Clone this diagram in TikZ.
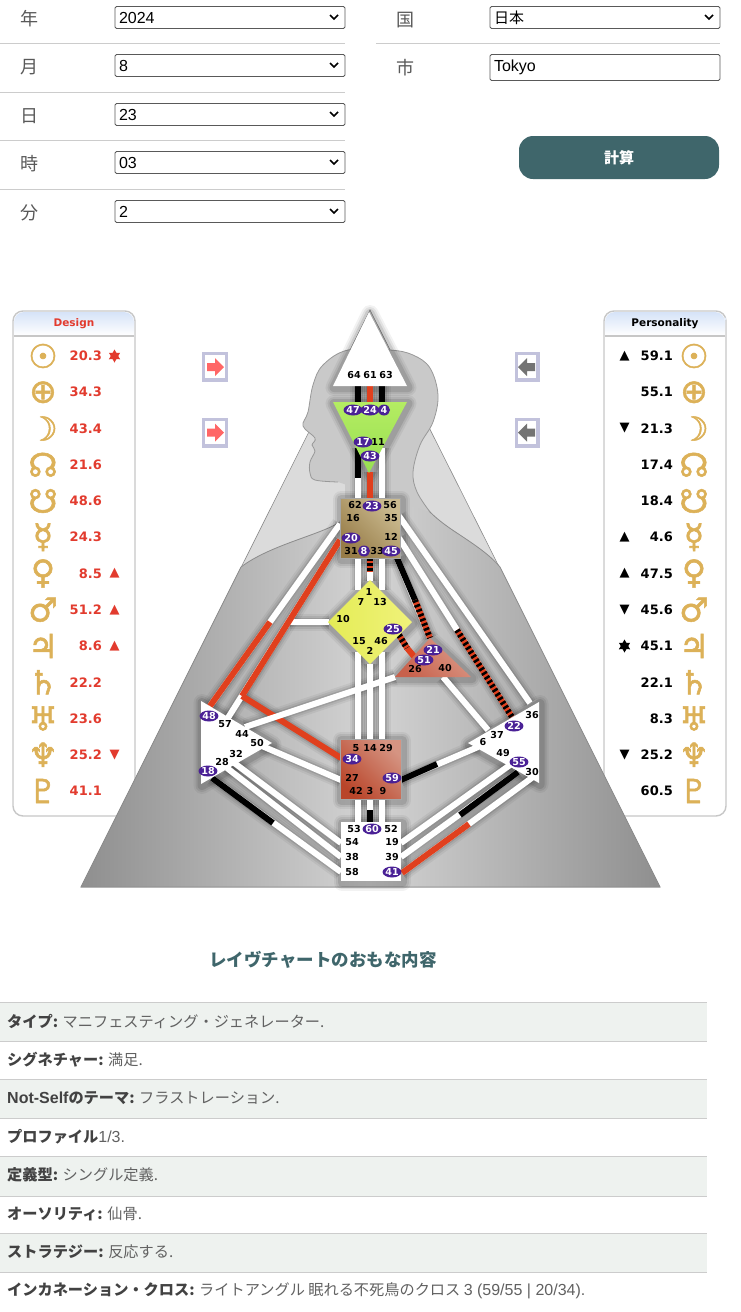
\documentclass[tikz,border=0pt]{standalone}
\usepackage{fontspec}
\setmainfont{Liberation Sans}
\newfontfamily\jpfont{Noto Sans CJK JP}
\newfontfamily\dejavu{DejaVu Sans}
\newfontfamily\planetfont{DejaVu Sans}[FakeBold=1.6]
\usepackage{tikz}
\usetikzlibrary{positioning, shapes.geometric}

\newcommand{\fsize}[1]{\fontsize{#1}{#1}\selectfont}
\newcommand{\latn}[1]{{\rmfamily\fsize{16}#1}}
\newcommand{\rowlead}[1]{{\bfseries\color{black!74}#1}}
\definecolor{btnteal}{HTML}{3F666B}
\definecolor{gold}{HTML}{DCB158}
\definecolor{desred}{HTML}{E23B2E}
\definecolor{chanred}{HTML}{E0401E}
\definecolor{dotpurple}{HTML}{4A2196}
\definecolor{rowtint}{HTML}{EEF2EF}
\definecolor{framelav}{HTML}{C2C2DC}
\definecolor{headblue}{HTML}{D6E3F8}
\definecolor{ajnatop}{HTML}{B4EC62}
\definecolor{ajnalow}{HTML}{98E052}
\definecolor{gleft}{HTML}{E4EC56}
\definecolor{gright}{HTML}{F0F27A}
\definecolor{egolow}{HTML}{C8614C}
\definecolor{egohigh}{HTML}{DA9A88}
\definecolor{sacrallow}{HTML}{B9452A}
\definecolor{sacralhigh}{HTML}{D59482}
\definecolor{throatlow}{HTML}{977C48}
\definecolor{throathigh}{HTML}{CBBB90}

\tikzset{
    formlabel/.style={inner sep=0, text=black!65, font=\jpfont\fsize{18}},
    selbox/.style={draw=black!65, line width=.8, rounded corners=1.5, text width=222, minimum height=22, inner xsep=4, inner ysep=0, align=left, font=\fsize{16}},
    chev/.style={line width=1.7, black},
    rulegrey/.style={draw=black!20, line width=1},
    panel/.style={draw=black!22, line width=1.4, rounded corners=10, fill=white},
    planet/.style={inner sep=0, text=gold, font=\planetfont\fsize{33}},
    numdes/.style={inner sep=0, anchor=east, text=desred, font=\dejavu\bfseries\fsize{13}},
    numper/.style={inner sep=0, anchor=east, text=black, font=\dejavu\bfseries\fsize{13}},
    markdes/.style={inner sep=0, text=desred, font=\dejavu\fsize{13}},
    markper/.style={inner sep=0, text=black, font=\dejavu\fsize{13}},
    hexstar/.style={star, star points=6, star point ratio=1.75, inner sep=0, minimum size=13},
    glowa/.style={draw=black, draw opacity=.05, line width=17, line join=round, shift={(1,1.5)}},
    glowb/.style={draw=black, draw opacity=.07, line width=13, line join=round, shift={(1,1.5)}},
    glowc/.style={draw=black, draw opacity=.10, line width=9, line join=round, shift={(1,1.5)}},
    chan/.style={white, line width=6},
    chanblack/.style={black, line width=6},
    chanredl/.style={chanred, line width=6},
    chanhatch/.style={black, line width=6, dash pattern=on 2.5 off 2.5},
    gatenum/.style={inner sep=0, text=black, font=\dejavu\bfseries\fsize{9.6}},
    gatedot/.style={ellipse, fill=dotpurple, text=white, inner sep=0, minimum width=12, minimum height=11, font=\dejavu\bfseries\fsize{9.6}},
    rowtext/.style={inner sep=0, anchor=west, text=black!62, font=\jpfont\fsize{15.2}},
}

% centre outlines
\def\headpath{(369,312)--(407,386)--(333,386)--cycle}
\def\ajnapath{(333,402)--(407,402)--(369,473)--cycle}
\def\throatpath{(340,498)--(400,498)--(400,558)--(340,558)--cycle}
\def\gpath{(370,580)--(412,622)--(370,664)--(328,622)--cycle}
\def\egopath{(430,638)--(471,677)--(395,677)--cycle}
\def\sacralpath{(340,739)--(401,739)--(401,799)--(340,799)--cycle}
\def\rootpath{(341,822)--(401,822)--(401,881)--(341,881)--cycle}
\def\spleenpath{(201,701)--(272,743)--(201,784)--cycle}
\def\esppath{(539,702)--(468,743)--(539,783)--cycle}

% channels as whole lengths
\def\chanlist{c64/c47,c61/c24,c63/c4,c17/c62,c43/c23,c11/c56,c31/c7,c8/c1,c33/c13,c15/c5,c2/c14,c46/c29,c42/c53,c3/c60,c9/c52,c16/c48,c20/c57,c10/c10m,c50/c27,c32/c54,c28/c38,c18/c58,c19/c49,c39/c55,c41/c30,c59/c6,c37/c40,c36/c35,c12/c22,c45/c21}

\begin{document}
\begin{tikzpicture}[x=1pt, y=-1pt]
    \useasboundingbox (0,0) rectangle (740,1312);

    % Form on top
    \foreach \t/\v/\y in {年/2024/17.5, 月/8/65.5, 日/23/114.5, 時/03/162.5, 分/2/211.5} {
        \node[formlabel] (lab\v) at (29,\y+1.5) {\t};
        \node[selbox] (sel\v) at (230,\y) {\v};
        \draw[chev] (330,\y-2.5) -- (334,\y+1.5) -- (338,\y-2.5);
    }
    \foreach \y in {43,92,140,189} \draw[rulegrey] (0,\y) -- (345,\y);
    \draw[rulegrey] (376,43) -- (720,43);
    \node[formlabel] (labcountry) at (405,20) {国};
    \node[selbox, font=\jpfont\fsize{15}] (selcountry) at (605,17.5) {日本};
    \draw[chev] (705,15) -- (709,19) -- (713,15);
    \node[formlabel] (labcity) at (405,68) {市};
    \node[selbox, minimum height=26] (inpcity) at (605,67.5) {Tokyo};
    \node[fill=btnteal, rounded corners=14, minimum width=200, minimum height=43, inner sep=0, text=white, font=\jpfont\bfseries\fsize{15}] (calc) at (619,157.5) {計算};

    % Side panels
    \foreach \px/\lab/\col in {74/Design/desred, 665/Personality/black} {
        \draw[panel] (\px-61,311) rectangle (\px+61,816);
        \shade[top color=headblue, bottom color=white] (\px-60,335.5) [rounded corners=10] -- (\px-60,312) -- (\px+60,312) -- (\px+60,325) [sharp corners] -- (\px+60,335.5) -- cycle;
        \draw[black!22, line width=1.2] (\px-60,336) -- (\px+60,336);
        \node[inner sep=0, text=\col, font=\dejavu\bfseries\fsize{10.5}] (title\px) at (\px,324) {\lab};
    }
    \foreach \g/\v/\m [count=\i from 0] in {☉/20.3/,⊕/34.3/,☽/43.4/,☊/21.6/,☋/48.6/,☿/24.3/,♀/8.5/▲,♂/51.2/▲,♃/8.6/▲,♄/22.2/,♅/23.6/,♆/25.2/▼,♇/41.1/} {
        \pgfmathsetmacro{\y}{356+36.25*\i}
        \node[planet] (dp\i) at (43,\y) {\g};
        \node[numdes] (dv\i) at (102,\y) {\v};
        \node[markdes] (dm\i) at (114.5,\y) {\m};
    }
    \node[hexstar, fill=desred] (dstar) at (114.5,356) {};
    \foreach \g/\v/\m [count=\i from 0] in {☉/59.1/▲,⊕/55.1/,☽/21.3/▼,☊/17.4/,☋/18.4/,☿/4.6/▲,♀/47.5/▲,♂/45.6/▼,♃/45.1/,♄/22.1/,♅/8.3/,♆/25.2/▼,♇/60.5/} {
        \pgfmathsetmacro{\y}{356+36.25*\i}
        \node[planet] (pp\i) at (694,\y) {\g};
        \node[numper] (pv\i) at (673,\y) {\v};
        \node[markper] (pm\i) at (624.5,\y) {\m};
    }
    \node[hexstar, fill=black] (pstar) at (624.5,646) {};

    % Arrow buttons
    \foreach \y in {367,432.5} {
        \fill[framelav] (202,\y-15) rectangle (228,\y+15);
        \fill[white] (205,\y-12) rectangle (225,\y+11);
        \fill[red!60!white] (207,\y-4) -- (215,\y-4) -- (215,\y-9) -- (224,\y) -- (215,\y+9) -- (215,\y+4) -- (207,\y+4) -- cycle;
        \fill[framelav] (515,\y-15) rectangle (540,\y+15);
        \fill[white] (518,\y-12) rectangle (536,\y+11);
        \fill[black!55] (535,\y-4) -- (527,\y-4) -- (527,\y-9) -- (518,\y) -- (527,\y+9) -- (527,\y+4) -- (535,\y+4) -- cycle;
    }

    % Figure behind the chart
    \fill[black!14] (370,310) -- (660,887) -- (81,887) -- cycle;
    \draw[black!45, line width=.6] (370,310) -- (660,887) -- (81,887) -- cycle;
    \shade[left color=black!44, right color=black!44, middle color=black!17, draw=black!45, line width=.8]
        (81,887) -- (241,567) .. controls (270,545) and (320,535) .. (340,522) -- (345,500) -- (412,480)
        .. controls (416,505) and (440,522) .. (460,535) .. controls (475,545) and (490,555) .. (500,567) -- (660,887) -- cycle;
    \draw[fill=black!21, draw=black!40, line width=.8] plot[smooth, tension=.6] coordinates {(338,482) (315,480) (310,473) (310,462) (315,451) (312,445) (315,438) (303,426) (308,412) (313,385) (323,365) (348,350) (390,350) (413,355) (430,368) (438,395) (433,422) (420,445) (413,472) (417,492) (430,512)};
    \fill[black!21] (345,470) rectangle (412,530);

    % Name the channel ends
    \foreach \n/\x/\y in {c64/358/386,c61/370/386,c63/382/386,c47/358/402,c24/370/402,c4/382/402,
        c17/358/448,c17m/358/478,c43/370/472,c11/382/448,c62/358/498,c23/370/498,c56/382/498,
        c31/358/558,c8/370/558,c8m/370/572,c33/382/558,c7/358/590,c1/370/581,c13/382/590,
        c15/358/652,c2/370/664,c46/382/652,c5/358/739,c14/370/739,c29/382/739,
        c42/358/799,c3/370/799,c3m/370/810,c9/382/799,c53/358/822,c60/370/822,c52/382/822,
        c16/340/524,c16m/270/622,c48/210/706,c20/340/540,c57m/242/696,c57/226/721,c34/341/758,
        c10/329/622,c10m/290/622,c44/245/727,c26/395/677,c50/262/746,c27/341/780,
        c32/233/762,c54/341/843,c28/227/768,c38/341/857,c18/212/778,c18m/273/823,c58/341/872,
        c19/401/843,c49/510/765,c39/401/857,c55m/460/815,c55/518/772,
        c41/402/873,c30m/469/824,c30/533/777,c59/401/780,c6m/437/764,c6/478/747,
        c37/488/730,c40/443/677,c36/530/703,c35/399/516,c22/512/717,c12m/457/630,c12/399/538,
        c45/397/558,c45m/415/600,c21/430/638,c25/399/635,c25m/407/648,c51/417/660} {
        \coordinate (\n) at (\x,\y);
    }

    % Soft shadows first
    \foreach \st in {glowa,glowb,glowc} {
        \foreach \a/\b in \chanlist \draw[\st] (\a) -- (\b);
        \draw[\st] (c57m) -- (c34);
        \draw[\st] (c44) -- (c26);
        \draw[\st] \headpath;
        \draw[\st] \ajnapath;
        \draw[\st] \throatpath;
        \draw[\st] \gpath;
        \draw[\st] \egopath;
        \draw[\st] \sacralpath;
        \draw[\st] \rootpath;
        \draw[\st] \spleenpath;
        \draw[\st] \esppath;
    }

    % White channels
    \foreach \a/\b in \chanlist \draw[chan] (\a) -- (\b);

    % Coloured parts of the channels
    \foreach \a/\b in {c64/c47,c63/c4,c17/c17m,c3m/c60,c18/c18m,c55/c55m,c59/c6m,c45/c45m} \draw[chanblack] (\a) -- (\b);
    \foreach \a/\b in {c61/c24,c43/c23,c48/c16m,c20/c57m,c57m/c34,c41/c30m,c25m/c51} \draw[chanredl] (\a) -- (\b);
    \foreach \a/\b in {c8/c8m,c45m/c21,c25/c25m,c12m/c22} {
        \draw[chanredl] (\a) -- (\b);
        \draw[chanhatch] (\a) -- (\b);
    }
    \draw[chan] (c44) -- (c26);

    % Centres
    \fill[white] \headpath;
    \shade[top color=ajnatop, bottom color=ajnalow] \ajnapath;
    \shade[left color=gleft, right color=gright] \gpath;
    \shade[left color=egolow, right color=egohigh, shading angle=135] \egopath;
    \shade[left color=throatlow, right color=throathigh, shading angle=135, draw=black!35, line width=.6] \throatpath;
    \shade[left color=sacrallow, right color=sacralhigh, shading angle=135, draw=black!35, line width=.6] \sacralpath;
    \fill[white] \rootpath;
    \fill[white] \spleenpath;
    \fill[white] \esppath;

    % Gate numbers, open
    \foreach \n/\x/\y in {64/354/375,61/370/375,63/386/375,11/378/442,62/355/505,56/390/505,16/353/518,35/391/518,12/391/537,31/351/551,33/377/551,
        7/361/602,1/369/592,13/380/602,10/343/619,15/359/641,46/381/641,2/370/651,26/415/669,40/445/668,
        57/225/724,44/242/734,50/257/743,32/236/754,28/222/762,36/532/715,37/497/735,6/483/742,49/503/753,30/532/772,
        5/356/748,14/370/748,29/386/748,27/352/778,42/356/791,3/370/791,9/383/791,
        53/354/829,52/391/829,54/352/842,19/392/842,38/352/857,39/392/857,58/352/872} {
        \node[gatenum] (g\n) at (\x,\y) {\n};
    }
    % Gate numbers, active
    \foreach \n/\x/\y in {47/353/410,24/370/410,4/384/410,17/363/442,43/370/456,23/372/506,20/351/538,8/364/551,45/391/551,
        25/393/629,21/433/650,51/424/660,48/209/716,18/208/771,22/514/726,55/519/762,34/352/759,59/392/778,60/372/829,41/392/872} {
        \node[gatedot] (g\n) at (\x,\y) {\n};
    }

    % Summary table
    \node[inner sep=0, text=btnteal, font=\jpfont\bfseries\fsize{17.5}] (sumtitle) at (323,960) {レイヴチャートのおもな内容};
    \foreach \ya/\yb in {1002/1041,1079/1118,1156/1196,1233/1272} \fill[rowtint] (0,\ya) rectangle (707,\yb);
    \foreach \y in {1002,1041,1079,1118,1156,1196,1233,1272} \draw[rulegrey] (0,\y) -- (707,\y);
    \node[rowtext] (rowtype) at (7,1021) {\rowlead{タイプ:} マニフェスティング・ジェネレーター.};
    \node[rowtext] (rowsign) at (7,1060) {\rowlead{シグネチャー:} 満足.};
    \node[rowtext] (rownot) at (7,1098) {\rowlead{\latn{Not-Self}のテーマ:} フラストレーション.};
    \node[rowtext] (rowprof) at (7,1137) {\rowlead{プロファイル}\latn{1/3.}};
    \node[rowtext] (rowdef) at (7,1175) {\rowlead{定義型:} シングル定義.};
    \node[rowtext] (rowauth) at (7,1214) {\rowlead{オーソリティ:} 仙骨.};
    \node[rowtext] (rowstrat) at (7,1252) {\rowlead{ストラテジー:} 反応する.};
    \node[rowtext] (rowcross) at (7,1291) {\rowlead{インカネーション・クロス:} ライトアングル 眠れる不死鳥のクロス \latn{3 (59/55 | 20/34).}};
\end{tikzpicture}
\end{document}
